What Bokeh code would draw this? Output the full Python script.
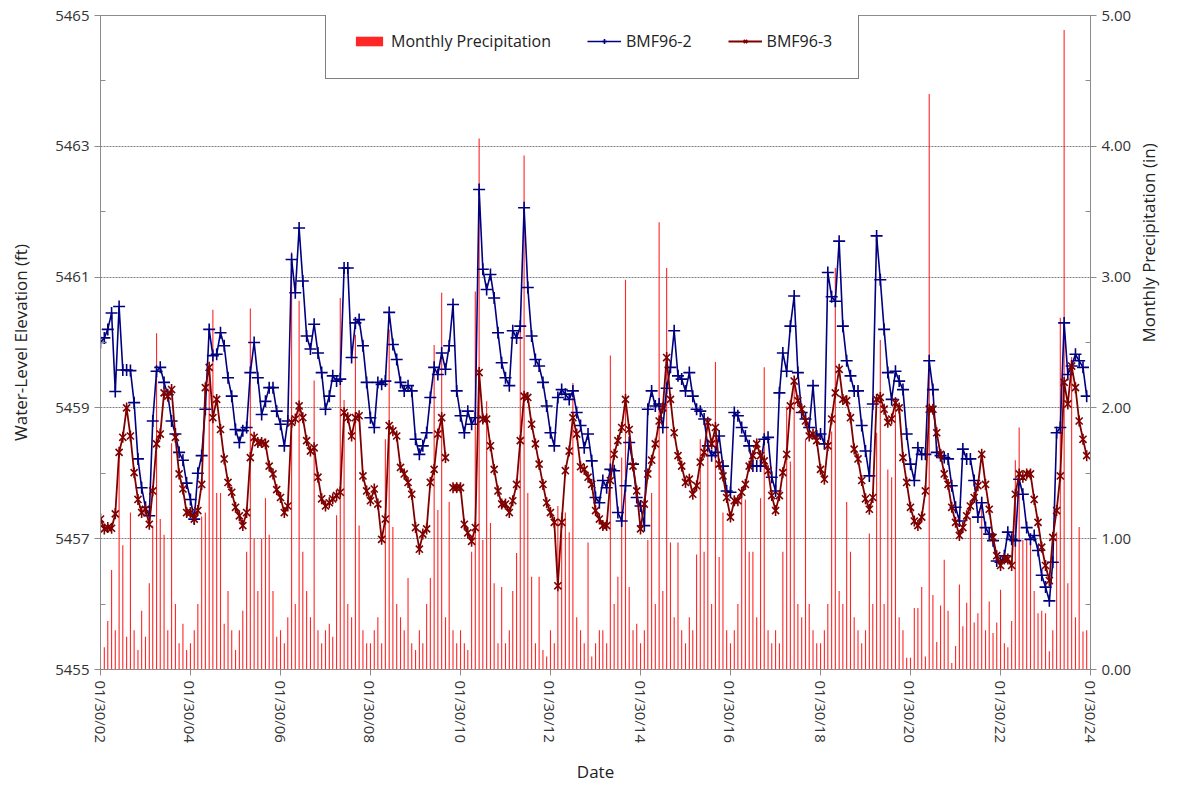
import math
import numpy as np
import pandas as pd
from bokeh.plotting import figure
from bokeh.models import (Range1d, LinearAxis, FixedTicker,
                          DatetimeTickFormatter, Legend, LegendItem, ColumnDataSource,
                          NumeralTickFormatter, Label)
from bokeh.embed import file_html
from bokeh.resources import INLINE

nan = float("nan")

# ---------------- data ----------------
bmf96_2 = [
    5460.0, 5460.07, 5460.2, 5460.45, 5459.25, 5460.55, 5459.58, 5459.58, 5459.57, 5459.08, 5458.22, 5457.78,
    5457.48, 5457.35, 5458.8, 5459.56, 5459.62, 5459.39, 5459.2, 5458.8, 5458.6, 5458.32, 5458.2, 5457.85,
    5457.6, 5457.3, 5458.0, 5458.27, 5458.98, 5460.2, 5459.8, 5459.82, 5460.15, 5459.95, 5459.46, 5459.18,
    5458.67, 5458.47, 5458.65, 5458.7, 5459.54, 5460.0, 5459.46, 5458.9, 5459.1, 5459.31, 5459.31, 5458.95,
    5458.75, 5458.42, 5458.8, 5461.27, 5460.76, 5461.75, 5460.94, 5460.1, 5459.9, 5460.28, 5459.84, 5459.54,
    5458.98, 5459.18, 5459.49, 5459.41, 5459.44, 5461.14, 5461.14, 5459.77, 5460.3, 5460.35, 5459.95, 5459.39,
    5458.85, 5458.7, 5459.39, 5459.36, 5459.41, 5460.46, 5459.97, 5459.74, 5459.39, 5459.26, 5459.34, 5459.26,
    5458.52, 5458.29, 5458.42, 5458.62, 5459.16, 5459.62, 5459.51, 5459.84, 5459.59, 5459.95, 5460.58, 5459.26,
    5458.88, 5458.62, 5458.95, 5458.75, 5458.85, 5462.34, 5461.12, 5460.81, 5461.04, 5460.68, 5460.15, 5459.69,
    5459.46, 5459.34, 5460.18, 5460.07, 5460.25, 5462.06, 5460.84, 5460.1, 5459.74, 5459.64, 5459.39, 5459.03,
    5458.62, 5458.42, 5459.16, 5459.28, 5459.21, 5459.13, 5459.26, 5458.93, 5458.73, 5458.39, 5458.6, 5458.19,
    5457.63, 5457.55, 5457.89, 5457.78, 5458.06, 5458.04, 5457.4, 5457.27, 5457.81, 5458.47, 5458.14, 5457.63,
    5457.5, 5457.2, 5458.98, 5459.26, 5459.03, 5459.06, 5458.7, 5459.3, 5459.62, 5460.18, 5459.49, 5459.44,
    5459.26, 5459.54, 5459.18, 5458.98, 5458.95, 5458.83, 5458.42, 5458.27, 5458.32, 5458.57, 5458.11, 5457.73,
    5457.71, 5458.93, 5458.88, 5458.7, 5458.57, 5458.42, 5458.11, 5458.11, 5458.11, 5458.52, 5458.55, 5457.94,
    5457.73, 5459.23, 5459.84, 5459.56, 5460.25, 5460.71, 5459.54, 5458.93, 5458.83, 5458.7, 5459.34, 5458.57,
    5458.6, 5458.45, 5461.07, 5460.7, 5460.63, 5461.55, 5460.25, 5459.72, 5459.49, 5459.26, 5459.26, 5458.73,
    5458.34, 5457.96, 5459.06, 5461.63, 5460.96, 5460.2, 5459.54, 5459.13, 5459.56, 5459.41, 5459.28, 5458.6,
    5458.14, 5457.89, 5458.39, 5458.29, 5458.29, 5459.72, 5459.28, 5458.32, 5458.27, 5458.24, 5458.22, 5457.81,
    5457.48, 5457.27, 5458.37, 5458.22, 5458.22, 5457.89, 5457.33, 5457.55, 5457.17, 5457.07, 5456.97, 5456.66,
    5456.64, 5456.74, 5457.1, 5456.99, 5456.97, 5457.91, 5457.68, 5457.17, 5456.99, 5457.05, 5456.82, 5456.44,
    5456.26, 5456.05, 5456.64, 5458.62, 5458.7, 5460.3, 5459.51, 5459.64, 5459.82, 5459.72, 5459.62, 5459.18,
]

bmf96_3 = [
    5457.3, 5457.15, 5457.17, 5457.16, 5457.38, 5458.32, 5458.55, 5459.0, 5458.57, 5458.01, 5457.6, 5457.4,
    5457.45, 5457.22, 5457.73, 5458.45, 5458.6, 5459.23, 5459.18, 5459.28, 5458.55, 5457.99, 5457.76, 5457.4,
    5457.4, 5457.3, 5457.43, 5457.83, 5459.31, 5459.62, 5458.85, 5459.13, 5458.67, 5458.22, 5457.86, 5457.71,
    5457.48, 5457.35, 5457.2, 5457.4, 5458.24, 5458.55, 5458.47, 5458.47, 5458.45, 5458.11, 5457.99, 5457.75,
    5457.63, 5457.4, 5457.5, 5458.78, 5458.83, 5459.03, 5458.85, 5458.5, 5458.34, 5458.39, 5457.94, 5457.61,
    5457.5, 5457.55, 5457.61, 5457.66, 5457.71, 5458.93, 5458.85, 5458.57, 5458.85, 5458.88, 5457.96, 5457.73,
    5457.58, 5457.76, 5457.53, 5456.99, 5457.3, 5458.73, 5458.65, 5458.57, 5458.09, 5457.99, 5457.86, 5457.68,
    5457.17, 5456.84, 5457.07, 5457.15, 5457.86, 5458.06, 5458.6, 5458.85, 5458.24, nan, 5457.78, 5457.78,
    5457.78, 5457.22, 5457.09, 5456.96, 5457.17, 5459.54, 5458.83, 5458.83, 5458.42, 5458.06, 5457.73, 5457.53,
    5457.53, 5457.4, 5457.58, 5457.83, 5458.5, 5459.18, 5459.16, 5458.75, 5458.45, 5458.14, 5457.83, 5457.55,
    5457.4, 5457.25, 5456.28, 5457.25, 5458.04, 5458.34, 5458.85, 5458.6, 5458.1, 5458.06, 5457.94, 5457.83,
    5457.43, 5457.3, 5457.2, 5457.2, 5457.89, 5458.29, 5458.5, 5458.7, 5459.13, 5458.67, 5458.11, 5457.73,
    5457.15, 5457.53, 5457.99, 5458.2, 5458.45, 5458.8, 5459.0, 5459.77, 5459.13, 5458.62, 5458.27, 5458.11,
    5457.86, 5457.91, 5457.68, 5457.81, 5458.17, 5458.32, 5458.78, 5458.45, 5458.7, 5458.14, 5457.96, 5457.63,
    5457.33, 5457.58, 5457.58, 5457.71, 5457.83, 5458.11, 5458.27, 5458.45, 5458.27, 5458.19, 5458.04, 5457.66,
    5457.43, 5457.66, 5458.01, 5458.29, 5459.03, 5459.41, 5459.11, 5458.98, 5458.8, 5458.57, 5458.6, 5458.5,
    5458.06, 5457.91, 5458.42, 5458.83, 5459.23, 5459.59, 5459.13, 5459.11, 5458.85, 5458.37, 5458.22, 5457.89,
    5457.61, 5457.45, 5457.63, 5459.13, 5459.16, 5458.98, 5458.78, 5458.83, 5459.08, 5459.0, 5458.24, 5457.86,
    5457.48, 5457.27, 5457.2, 5457.33, 5457.73, 5458.98, 5458.98, 5458.62, 5458.29, 5457.99, 5457.83, 5457.48,
    5457.25, 5457.05, 5457.17, 5457.35, 5457.5, 5457.63, 5457.81, 5458.29, 5457.83, 5457.45, 5457.02, 5456.74,
    5456.59, 5456.69, 5456.69, 5456.59, 5457.68, 5457.99, 5457.94, 5457.99, 5457.99, 5457.6, 5457.25, 5456.87,
    5456.59, 5456.36, 5457.02, 5457.43, 5457.96, 5459.39, 5459.06, 5459.64, 5459.31, 5458.8, 5458.52, 5458.27,
]

precip = [
    0.05, 0.17, 0.37, 0.76, 0.3, 1.66, 0.95, 0.25, 1.2, 0.3, 0.15, 0.45,    # 2002
    0.25, 0.66, 1.1, 2.57, 1.15, 1.03, 0.3, 1.73, 0.5, 0.2, 0.35, 0.15,     # 2003
    0.2, 0.3, 0.5, 1.17, 1.2, 2.3, 2.75, 1.35, 1.35, 0.35, 0.6, 0.3,        # 2004
    0.15, 0.3, 0.45, 0.9, 2.76, 1.0, 0.6, 1.0, 1.31, 1.03, 0.6, 0.25,       # 2005
    0.3, 0.2, 0.4, 3.19, 0.5, 2.82, 0.9, 0.6, 0.4, 2.21, 0.3, 0.2,          # 2006
    0.3, 0.35, 0.25, 1.18, 2.84, 2.06, 0.5, 0.4, 2.56, 1.1, 0.3, 0.2,       # 2007
    0.2, 0.3, 0.4, 0.2, 1.76, 2.6, 1.09, 0.5, 0.4, 0.3, 0.7, 0.2,           # 2008
    0.15, 0.3, 0.2, 0.5, 0.7, 2.48, 1.22, 2.88, 0.4, 1.28, 0.3, 0.2,        # 2009
    0.3, 0.2, 0.15, 0.9, 2.89, 4.06, 0.99, 2.05, 1.12, 0.66, 0.2, 0.63,     # 2010
    0.2, 0.3, 0.6, 0.89, 2.63, 3.93, 1.35, 0.71, 0.2, 0.71, 0.15, 0.1,      # 2011
    0.3, 0.2, 1.25, 1.2, 1.2, 1.05, 2.19, 0.4, 0.3, 0.2, 0.97, 0.1,         # 2012
    0.2, 0.3, 0.3, 0.2, 2.4, 0.5, 0.71, 1.62, 2.98, 0.63, 0.3, 0.35,        # 2013
    0.2, 0.3, 0.99, 1.35, 0.5, 3.42, 0.6, 3.07, 0.97, 0.4, 0.97, 0.3,       # 2014
    0.2, 0.4, 0.3, 0.88, 1.76, 0.9, 1.76, 0.5, 2.35, 0.86, 1.2, 0.3,        # 2015
    0.2, 0.3, 0.5, 1.37, 1.3, 0.9, 0.9, 0.4, 1.31, 2.31, 0.3, 0.2,          # 2016
    0.3, 0.2, 0.9, 2.01, 1.59, 2.21, 0.5, 0.4, 1.76, 0.5, 0.3, 0.2,         # 2017
    0.2, 0.3, 0.5, 1.82, 3.07, 0.6, 0.5, 1.28, 0.9, 0.4, 0.3, 0.2,          # 2018
    0.3, 1.04, 0.5, 1.81, 2.52, 0.5, 1.53, 1.47, 2.0, 0.4, 0.3, 0.09,       # 2019
    0.09, 0.47, 0.47, 0.63, 0.1, 4.4, 0.57, 0.21, 0.49, 0.84, 0.45, 0.05,   # 2020
    0.18, 0.65, 0.33, 0.51, 1.16, 0.36, 0.43, 1.32, 0.3, 0.52, 0.28, 0.36,  # 2021
    0.61, 0.2, 0.17, 0.37, 1.6, 1.85, 0.99, 0.99, 0.99, 0.6, 0.43, 0.45,    # 2022
    0.43, 0.14, 0.3, 1.05, 2.69, 4.89, 0.66, 2.39, 0.4, 1.09, 0.29, 0.3,    # 2023
]

x_tick_dates = ["2002-01-30", "2004-01-30", "2006-01-30", "2008-01-30", "2010-01-30", "2012-01-30",
                "2014-01-30", "2016-01-30", "2018-01-30", "2020-01-30", "2022-01-30", "2024-01-30"]
y_ticks = [5455, 5457, 5459, 5461, 5463, 5465]
y_minor_ticks = [5456, 5458, 5460, 5462, 5464]
p_ticks = [0, 1, 2, 3, 4, 5]
p_minor_ticks = [0.5, 1.5, 2.5, 3.5, 4.5]

dates = pd.date_range("2002-01-01", periods=len(bmf96_2), freq="MS") + pd.Timedelta(days=29)

src = ColumnDataSource(dict(date=dates, b2=bmf96_2, b3=bmf96_3, pr=precip))

# ---------------- figure ----------------
FONT = "Open Sans"
FW, FH = 990, 655
BL, BR, BT, BB = 100, 100, 15, 115
p = figure(width=BL + FW + BR, height=BT + FH + BB, output_backend="svg", toolbar_location=None,
           x_axis_type="datetime",
           x_range=Range1d(pd.Timestamp("2002-01-30"), pd.Timestamp("2024-01-30")),
           y_range=Range1d(5455, 5465),
           min_border_left=BL, min_border_right=BR, min_border_top=BT, min_border_bottom=BB)
p.extra_y_ranges = {"precip": Range1d(0, 5)}
p.outline_line_color = "#8c8c8c"
p.background_fill_color = "white"
p.border_fill_color = "white"

# precipitation bars
bars = p.vbar(x="date", top="pr", bottom=0, width=pd.Timedelta(days=9).total_seconds() * 1000,
              source=src, y_range_name="precip", fill_color="#ff0000", line_color=None,
              fill_alpha=0.85)

# series
l2 = p.line("date", "b2", source=src, color="#000080", line_width=1.6)
m2 = p.scatter("date", "b2", source=src, marker="cross", size=12, line_color="#000080", line_width=1.6)
l3 = p.line("date", "b3", source=src, color="#800000", line_width=1.8)
m3a = p.scatter("date", "b3", source=src, marker="x", size=10, line_color="#800000", line_width=1.6)
m3b = p.scatter("date", "b3", source=src, marker="dash", size=11, angle=math.pi / 2,
                line_color="#800000", line_width=1.6)

# axes
ms_ticks = [pd.Timestamp(d).value / 1e6 for d in x_tick_dates]
xa = p.xaxis[0]
xa.ticker = FixedTicker(ticks=ms_ticks)
fmt = "%m/%d/%y"
xa.formatter = DatetimeTickFormatter(years=fmt, months=fmt, days=fmt, hours=fmt, hourmin=fmt,
                                     minutes=fmt, minsec=fmt, seconds=fmt, milliseconds=fmt,
                                     microseconds=fmt)
xa.major_label_orientation = -math.pi / 2
xa.axis_label = "Date"

ya = p.yaxis[0]
ya.ticker = FixedTicker(ticks=y_ticks, minor_ticks=y_minor_ticks)
ya.axis_label = "Water-Level Elevation (ft)"

ra = LinearAxis(y_range_name="precip", ticker=FixedTicker(ticks=p_ticks, minor_ticks=p_minor_ticks),
                formatter=NumeralTickFormatter(format="0.00"))
p.add_layout(ra, "right")

right_title = "Monthly Precipitation (in)"
label_done = False
try:
    ra.axis_label = right_title
    ra.axis_label_orientation = math.pi / 2
    label_done = True
except Exception:
    ra.axis_label = None

for ax in [xa, ya, ra]:
    ax.axis_label_text_font = FONT
    ax.axis_label_text_font_size = "17px"
    ax.axis_label_text_font_style = "normal"
    ax.axis_label_text_color = "#222222"
    ax.major_label_text_font = FONT
    ax.major_label_text_font_size = "15px"
    ax.major_label_text_color = "#333333"
    ax.axis_line_color = "#8c8c8c"
    ax.major_tick_line_color = "#8c8c8c"
    ax.minor_tick_line_color = "#8c8c8c"
    ax.major_tick_out = 6
    ax.major_tick_in = 0
    ax.minor_tick_in = 5
    ax.minor_tick_out = 0
xa.minor_tick_line_color = None
xa.axis_label_standoff = 14
ya.axis_label_standoff = 20
ra.axis_label_standoff = 14

if not label_done:
    lab = Label(x=FW + 92, y=FH / 2, x_units="screen", y_units="screen", text=right_title,
                angle=math.pi / 2, text_align="center", text_baseline="middle",
                text_font=FONT, text_font_size="17px", text_color="#222222")
    p.add_layout(lab)

p.xgrid.grid_line_color = None
p.ygrid.ticker = FixedTicker(ticks=y_ticks)
p.ygrid.grid_line_color = "#7f7f7f"
p.ygrid.grid_line_dash = "2 1"
p.ygrid.grid_line_width = 1

legend = Legend(items=[
    LegendItem(label="Monthly Precipitation", renderers=[bars]),
    LegendItem(label="BMF96-2", renderers=[l2, m2]),
    LegendItem(label="BMF96-3", renderers=[l3, m3a, m3b]),
], orientation="horizontal", location=(225, FH - 65))
legend.label_text_font = FONT
legend.label_text_font_size = "16px"
legend.label_text_color = "#222222"
legend.glyph_width = 34
legend.glyph_height = 12
legend.label_standoff = 5
legend.spacing = 36
legend.padding = 26
legend.margin = 0
legend.border_line_color = "black"
legend.border_line_width = 1
legend.background_fill_color = "white"
legend.background_fill_alpha = 1.0
p.add_layout(legend, "center")

open("out.html", "w").write(file_html(p, INLINE))
